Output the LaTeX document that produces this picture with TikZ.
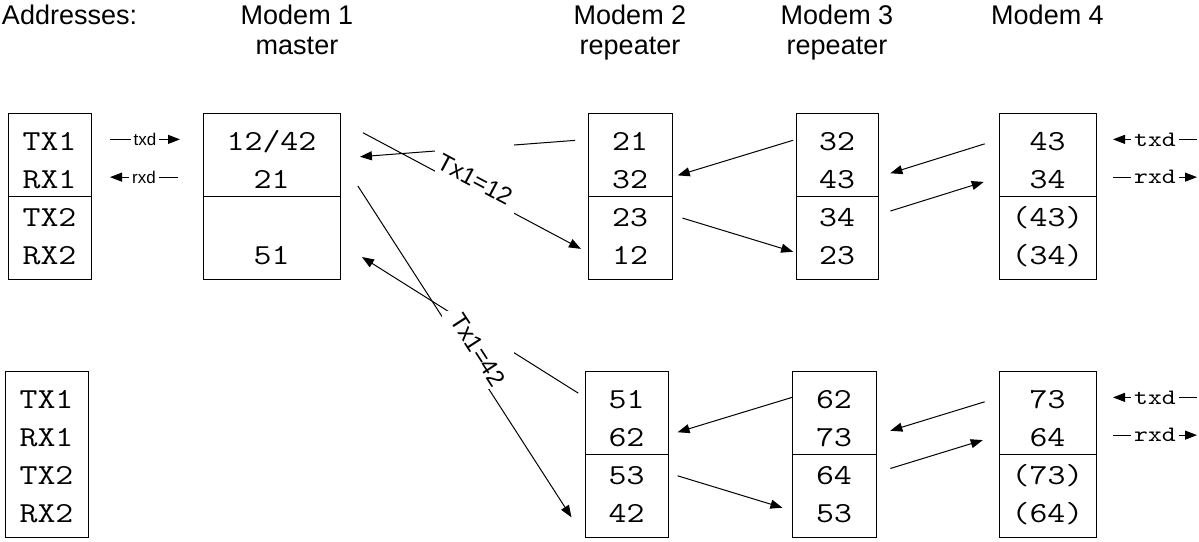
\documentclass[tikz,border=0pt]{standalone}
\usepackage{fontspec}
\setmainfont{Liberation Sans}
\newfontfamily\regfont[FakeStretch=1.2]{Latin Modern Mono}
\usepackage{graphicx}
\usepackage{tikz}
\usetikzlibrary{positioning, arrows.meta, calc, fit}
% one address box: name, width, placement, four rows
\newcommand{\regbox}[7]{%
  \node[regrow, minimum width=#2, #3] (#1-1) {#4};
  \node[regrow, minimum width=#2, below=0pt of #1-1] (#1-2) {#5};
  \node[regrow, minimum width=#2, below=0pt of #1-2] (#1-3) {#6};
  \node[regrow, minimum width=#2, below=0pt of #1-3] (#1-4) {#7};
  \node[regframe, fit=(#1-1)(#1-4)] (#1) {};
}

\begin{document}
\begin{tikzpicture}[
  regrow/.style={minimum height=18.875pt, inner sep=0pt, outer sep=0pt,
              text height=11.5pt, text depth=0pt,
              font=\fontsize{14.5}{17}\regfont},
  regframe/.style={draw, inner xsep=0pt, inner ysep=3.75pt},
  head/.style={align=center, inner sep=0pt, text depth=0pt,
              font=\fontsize{13.5}{15}\selectfont},
  siglbl/.style={fill=white, inner sep=1.5pt,
              font=\fontsize{8.5}{10}\selectfont},
  sigmono/.style={fill=white, inner sep=1.5pt,
              font=\fontsize{11}{12}\regfont},
  txlbl/.style={fill=white, inner sep=0pt,
              font=\fontsize{12}{14}\selectfont},
  line width=0.5pt,
  >={Triangle[length=6pt,width=4.5pt]}
]
  \useasboundingbox (0,0) rectangle (599.5pt,-270.5pt);

  % Row 1: first set of addresses
  \regbox{legt}{41.5pt}{at={(24.75pt,-69.69pt)}}{TX1}{RX1}{TX2}{RX2}
  \regbox{m1t}{68.5pt}{right=56pt of legt-1}{12/42}{21}{}{51}
  \regbox{m2t}{42pt}{right=124pt of m1t-1}{21}{32}{23}{12}
  \regbox{m3t}{41pt}{right=62pt of m2t-1}{32}{43}{34}{23}
  \regbox{m4t}{48.5pt}{right=60.5pt of m3t-1}{43}{34}{(43)}{(34)}

  % Row 2: second set of addresses
  \regbox{legb}{41.5pt}{below=53.5pt of legt-4, xshift=-1.5pt}{TX1}{RX1}{TX2}{RX2}
  \regbox{m2b}{41.5pt}{right=248.5pt of legb-1}{51}{62}{53}{42}
  \regbox{m3b}{42pt}{right=62pt of m2b-1}{62}{73}{64}{53}
  \regbox{m4b}{48.5pt}{right=61.5pt of m3b-1}{73}{64}{(73)}{(64)}

  \foreach \b in {legt,m1t,m2t,m3t,m4t,m2b,m3b,m4b}
    \draw (\b-2.south west) -- (\b-2.south east);

  % Headings
  \node[head, anchor=base west] (addr) at ($(legt.north west)+(-3pt,44pt)$) {Addresses:};
  \node[head, above=29pt of m1t, xshift=12.75pt] (m1h) {Modem 1\\master};
  \node[head, above=29pt of m2t] (m2h) {Modem 2\\repeater};
  \node[head, above=29pt of m3t] (m3h) {Modem 3\\repeater};
  \node[head, above=44pt of m4t] (m4h) {Modem 4};

  % txd / rxd
  \coordinate[right=9.5pt of legt-1] (ltx-a);
  \coordinate[left=11.5pt of m1t-1] (ltx-b);
  \coordinate[right=9.5pt of legt-2] (lrx-a);
  \coordinate[left=12.5pt of m1t-2] (lrx-b);
  \draw[->] (ltx-a) -- node[siglbl] {txd} (ltx-b);
  \draw[->] (lrx-b) -- node[siglbl] {rxd} (lrx-a);
  \foreach \m in {m4t,m4b} {
    \coordinate[right=8.5pt of \m-1] (\m-txa);
    \coordinate[right=50.5pt of \m-1] (\m-txb);
    \coordinate[right=8.5pt of \m-2] (\m-rxa);
    \coordinate[right=50.5pt of \m-2] (\m-rxb);
    \draw[->] (\m-txb) -- node[sigmono] {txd} (\m-txa);
    \draw[->] (\m-rxa) -- node[sigmono] {rxd} (\m-rxb);
  }

  % Repeater links
  \draw[->, shorten <=6.5pt, shorten >=10pt] (m2t-1.west) -- (m1t-1.south east);
  \draw[->, shorten <=4pt, shorten >=13pt] (m2b-1.west)
    -- ($(m1t-3.south east)!.5!(m1t-4.east)$);
  \draw[->, shorten <=1.5pt, shorten >=3pt] (m3t-1.west) -- (m2t-2.east);
  \draw[->, shorten <=5.5pt, shorten >=1.5pt] (m2t-3.east) -- (m3t-4.west);
  \draw[->, shorten <=7.5pt, shorten >=6.5pt] (m4t-1.west) -- (m3t-2.east);
  \draw[->, shorten <=6.5pt, shorten >=8pt] (m3t-3.east) -- (m4t-2.west);
  \draw[->, shorten >=5pt] (m3b-1.west) -- (m2b-2.east);
  \draw[->, shorten <=5pt, shorten >=5pt] (m2b-3.east) -- (m3b-4.west);
  \draw[->, shorten <=7.5pt, shorten >=7.5pt] (m4b-1.west) -- (m3b-2.east);
  \draw[->, shorten <=7.5pt, shorten >=8.5pt] (m3b-3.east) -- (m4b-2.west);

  % Master transmit
  \draw[->, shorten <=13pt, shorten >=4pt] (m1t-1.north east)
    -- node[txlbl, pos=0.544, yshift=6.5pt, minimum width=38pt, minimum height=35pt]
       {\rotatebox{-28}{Tx1=12}} (m2t-4.west);
  \draw[->, shorten <=16.5pt, shorten >=12pt] (m1t-1.south east)
    -- node[txlbl, pos=0.5, xshift=8pt, yshift=-1pt, minimum width=36pt, minimum height=39pt]
       {\rotatebox{-57}{Tx1=42}} (m2b.south west);
\end{tikzpicture}
\end{document}
